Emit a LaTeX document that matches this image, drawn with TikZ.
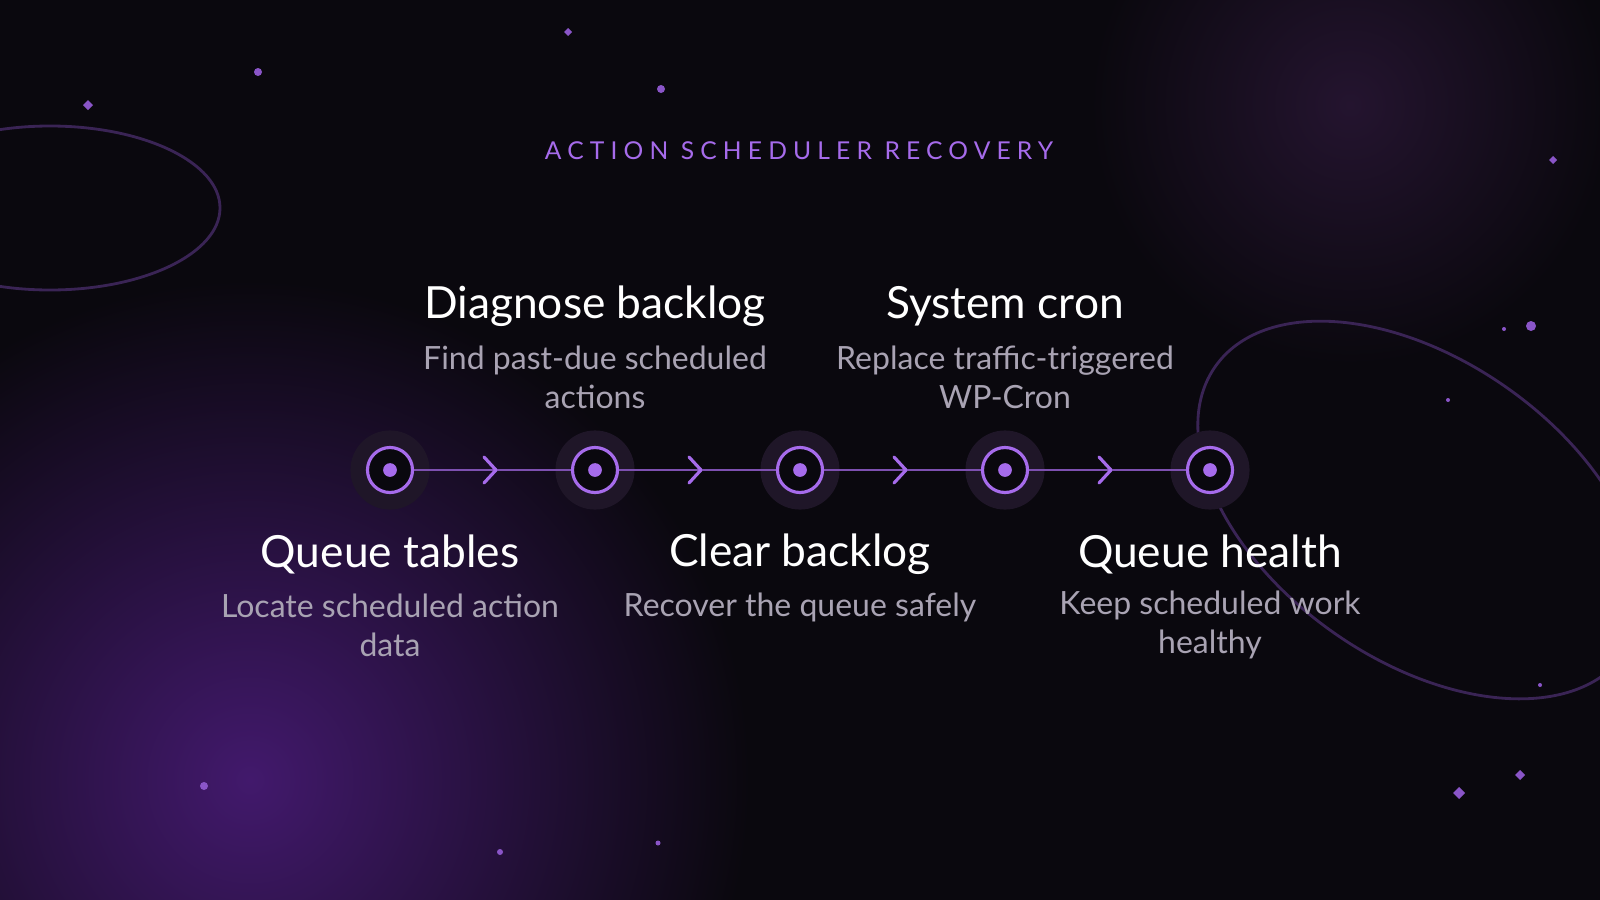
\documentclass[tikz,border=0pt]{standalone}
\usepackage{fontspec}
\setmainfont{Lato}
\newfontfamily\hdfont[LetterSpace=25]{Lato}
\usetikzlibrary{shapes.geometric}
\definecolor{bg}{HTML}{0A080E}
\definecolor{pur}{HTML}{A66BEB}
\definecolor{glow}{HTML}{42196C}
\definecolor{halo}{HTML}{1F1628}
\definecolor{tr}{HTML}{24142F}
\definecolor{ell}{HTML}{3A2455}
\definecolor{sub}{HTML}{A9A3B3}
\definecolor{dotc}{HTML}{8A55C8}
\begin{document}
\begin{tikzpicture}[x=0.01cm,y=-0.01cm,
  ttl/.style={text=white,font=\fontsize{12.6}{15}\selectfont},
  sbt/.style={text=sub,font=\fontsize{9.1}{11}\selectfont,align=center},
  halo/.style={circle,fill=halo,minimum size=22.5pt,inner sep=0},
  ring/.style={circle,draw=pur,line width=0.9pt,fill=bg,minimum size=12.8pt,inner sep=0},
  dot/.style={circle,fill=pur,minimum size=3.9pt,inner sep=0},
  link/.style={draw=pur!75!black,line width=0.8pt},
  chev/.style={draw=pur,line width=0.9pt,line cap=round,line join=round},
  sp/.style={fill=dotc}]
\useasboundingbox (0,0) rectangle (1600,900);
\fill[bg] (0,0) rectangle (1600,900);
\begin{scope}
\clip (0,0) rectangle (1600,900);
\shade[inner color=glow, outer color=bg] (250,780) circle (500);
\shade[inner color=tr, outer color=bg] (1350,105) circle (260);
\end{scope}
\draw[ell,line width=0.8pt] (50,208) ellipse (170 and 82);
\draw[ell,line width=0.8pt,rotate around={-35:(1420,510)}] (1420,510) ellipse (250 and 150);
\foreach \x/\y/\r in {258/72/4,661/89/4,204/786/4,500/852/3,658/843/2.5,1531/326/5,1504/329/2,1448/400/2,1540/685/2}
  \fill[sp] (\x,\y) circle (\r);
\foreach \x/\y/\s in {88/105/5,568/32/4,1553/160/4,1459/793/6,1520/775/5}
  \fill[sp] (\x-\s,\y) -- (\x,\y-\s) -- (\x+\s,\y) -- (\x,\y+\s) -- cycle;
\node[font=\hdfont\fontsize{7}{8}\selectfont,text=pur] (hd) at (799,151) {ACTION SCHEDULER RECOVERY};
\foreach \i/\x in {1/390,2/595,3/800,4/1005,5/1210}
  \node[halo] (h\i) at (\x,470) {};
\draw[link] (390,470) -- (1210,470);
\foreach \i/\x in {1/390,2/595,3/800,4/1005,5/1210} {
  \node[ring] (r\i) at (\x,470) {};
  \node[dot] (d\i) at (\x,470) {};
}
\foreach \x in {491,696,901,1106}
  \draw[chev] (\x-7,457) -- (\x+5,470) -- (\x-7,483);
\node[ttl] (t1) at (390,554) {Queue tables};
\node[sbt] (s1) at (390,625) {Locate scheduled action\\data};
\node[ttl] (t2) at (595,306) {Diagnose backlog};
\node[sbt] (s2) at (595,377) {Find past-due scheduled\\actions};
\node[ttl] (t3) at (800,554) {Clear backlog};
\node[sbt] (s3) at (800,607) {Recover the queue safely};
\node[ttl] (t4) at (1005,306) {System cron};
\node[sbt] (s4) at (1005,377) {Replace traffic-triggered\\WP-Cron};
\node[ttl] (t5) at (1210,554) {Queue health};
\node[sbt] (s5) at (1210,625) {Keep scheduled work\\healthy};
\end{tikzpicture}
\end{document}
